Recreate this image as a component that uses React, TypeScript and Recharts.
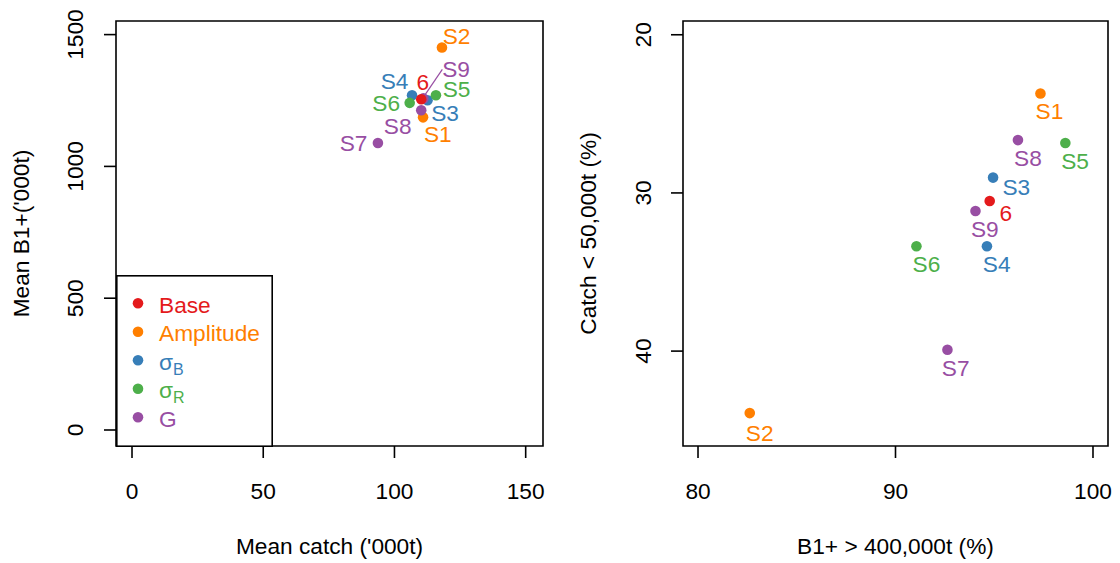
import React from 'react';
import { ScatterChart, Scatter, XAxis, YAxis, ReferenceArea, Legend } from 'recharts';

const FONT = '"Liberation Sans", Arial, Helvetica, sans-serif';
const FS = 22.7;

// scenarios, in the order of the source table
const scenarios = ['Base', 'S1', 'S2', 'S3', 'S4', 'S5', 'S6', 'S7', 'S8', 'S9'];
const pointLabels = ['6', 'S1', 'S2', 'S3', 'S4', 'S5', 'S6', 'S7', 'S8', 'S9'];
const scenarioGroup = ['Base', 'Amplitude', 'Amplitude', 'sigmaB', 'sigmaB', 'sigmaR', 'sigmaR', 'G', 'G', 'G'];

// left panel
const meanCatch = [110.2, 110.9, 118.1, 112.6, 106.7, 115.8, 105.8, 93.7, 110.2, 111.0];
const meanB1 = [1255, 1186, 1451, 1251, 1270, 1270, 1241, 1089, 1213, 1258];
// right panel
const pctB1Above = [94.77, 97.34, 82.62, 94.94, 94.63, 98.6, 91.06, 92.63, 96.2, 94.05];
const pctCatchBelow = [30.51, 23.71, 43.92, 29.03, 33.37, 26.84, 33.37, 39.91, 26.66, 31.14];

const legendGroups = ['Base', 'Amplitude', 'sigmaB', 'sigmaR', 'G'];
const drawOrder = ['Amplitude', 'sigmaB', 'sigmaR', 'G', 'Base'];

const leftTicksX = [0, 50, 100, 150];
const leftTicksY = [0, 500, 1000, 1500];
const rightTicksX = [80, 90, 100];
const rightTicksY = [20, 30, 40];

const groupColors: Record<string, string> = {
  Base: '#E41A1C',
  Amplitude: '#FF7F00',
  sigmaB: '#377EB8',
  sigmaR: '#4DAF4A',
  G: '#984EA3',
};

// label offsets (px) from each point
const leftLabelOffset: Record<string, number[]> = {
  Base: [1.5, -17.3], S1: [14.8, 16.3], S2: [14.6, -11.3], S3: [17.5, 12.5], S4: [-17.5, -14.2],
  S5: [20.6, -5.8], S6: [-23.5, 0], S7: [-24.4, 0], S8: [-23.5, 15.8], S9: [32.8, -29.7],
};
const rightLabelOffset: Record<string, number[]> = {
  Base: [16, 11.7], S1: [9, 17.3], S2: [10, 19.7], S3: [23.3, 9.3], S4: [9.7, 18.3],
  S5: [9.7, 18.3], S6: [10, 18.3], S7: [8.3, 18], S8: [10, 18.3], S9: [9.3, 17.7],
};

const rowsFor = (xs: number[], ys: number[], group: string) =>
  scenarios
    .map((s, i) => ({ name: s, label: pointLabels[i], group: scenarioGroup[i], x: xs[i], y: ys[i] }))
    .filter((d) => d.group === group);

const makeShape = (offsets: Record<string, number[]>, leader: boolean) => (props: any) => {
  const { cx, cy, payload } = props;
  const color = groupColors[payload.group];
  const [dx, dy] = offsets[payload.name];
  return (
    <g>
      <circle cx={cx} cy={cy} r={5.3} fill={color} />
      {leader && payload.name === 'S9' && (
        <line x1={cx + 2} y1={cy - 4} x2={cx + 19} y2={cy - 29} stroke={color} strokeWidth={1.2} />
      )}
      <text x={cx + dx} y={cy + dy} dy="0.35em" textAnchor="middle" fill={color} fontSize={FS} fontFamily={FONT}>
        {payload.label}
      </text>
    </g>
  );
};

const XTick = (props: any) => (
  <text x={props.x} y={props.y} dy="0.35em" textAnchor="middle" fontSize={FS} fontFamily={FONT} fill="#000">
    {props.payload.value}
  </text>
);

// y tick labels sit at a fixed column (textX) left of the plot, rotated like R's las=0
const YTick = (props: any) => {
  const x = props.textX;
  return (
    <text
      x={x}
      y={props.y}
      dy="0.35em"
      textAnchor="middle"
      transform={`rotate(-90 ${x} ${props.y})`}
      fontSize={FS}
      fontFamily={FONT}
      fill="#000"
    >
      {props.payload.value}
    </text>
  );
};

const xTitle = (text: string) => (props: any) => {
  const vb = props.viewBox;
  return (
    <text x={vb.x + vb.width / 2} y={vb.y + 108} textAnchor="middle" fontSize={FS} fontFamily={FONT} fill="#000">
      {text}
    </text>
  );
};

const yTitle = (text: string) => (props: any) => {
  const vb = props.viewBox;
  const x = vb.x + vb.width - 95;
  const y = vb.y + vb.height / 2;
  return (
    <text
      x={x}
      y={y}
      dy="0.35em"
      textAnchor="middle"
      transform={`rotate(-90 ${x} ${y})`}
      fontSize={FS}
      fontFamily={FONT}
      fill="#000"
    >
      {text}
    </text>
  );
};

const legendText: Record<string, React.ReactNode> = {
  Base: 'Base',
  Amplitude: 'Amplitude',
  sigmaB: (
    <>
      σ<tspan fontSize={16} dy={5}>B</tspan>
    </>
  ),
  sigmaR: (
    <>
      σ<tspan fontSize={16} dy={5}>R</tspan>
    </>
  ),
  G: 'G',
};

const LegendBox = () => (
  <svg width={157} height={172} style={{ display: 'block' }}>
    <rect x={0.8} y={0.8} width={155.4} height={170.4} fill="#fff" stroke="#000" strokeWidth={1.6} />
    {legendGroups.map((g, i) => (
      <g key={g}>
        <circle cx={22} cy={28.3 + i * 28.5} r={5.3} fill={groupColors[g]} />
        <text x={43} y={29.8 + i * 28.5} dy="0.35em" fontSize={FS} fontFamily={FONT} fill={groupColors[g]}>
          {legendText[g]}
        </text>
      </g>
    ))}
  </svg>
);

export default function App() {
  const lx: [number, number] = [-6.1, 156.6];
  const ly: [number, number] = [-60.7, 1551.6];
  const rx: [number, number] = [79.24, 100.76];
  const ry: [number, number] = [19.13, 46.0];

  return (
    <div style={{ position: 'absolute', left: 0, top: 0, width: 1120, height: 563, background: '#fff', fontFamily: FONT }}>
      <div style={{ position: 'absolute', left: 0, top: 0 }}>
        <ScatterChart width={560} height={563} margin={{ top: 21, right: 17, bottom: 0, left: 0 }}>
          <XAxis
            type="number"
            dataKey="x"
            domain={lx}
            ticks={leftTicksX}
            allowDataOverflow
            height={117}
            axisLine={false}
            tickSize={12}
            tickMargin={33}
            tickLine={{ stroke: '#000', strokeWidth: 1.6 }}
            tick={<XTick />}
            label={xTitle("Mean catch ('000t)")}
          />
          <YAxis
            type="number"
            dataKey="y"
            domain={ly}
            ticks={leftTicksY}
            allowDataOverflow
            width={116}
            axisLine={false}
            tickSize={12}
            tickLine={{ stroke: '#000', strokeWidth: 1.6 }}
            tick={<YTick textX={75} />}
            label={yTitle("Mean B1+('000t)")}
          />
          <ReferenceArea x1={lx[0]} x2={lx[1]} y1={ly[0]} y2={ly[1]} fill="none" fillOpacity={0} stroke="#000" strokeWidth={1.6} />
          {drawOrder.map((g) => (
            <Scatter
              key={g}
              data={rowsFor(meanCatch, meanB1, g)}
              fill={groupColors[g]}
              shape={makeShape(leftLabelOffset, true)}
              isAnimationActive={false}
            />
          ))}
          <Legend
            layout="horizontal"
            verticalAlign="middle"
            align="center"
            content={<LegendBox />}
            wrapperStyle={{ left: 116, top: 275, width: 157, height: 172 }}
          />
        </ScatterChart>
      </div>
      <div style={{ position: 'absolute', left: 560, top: 0 }}>
        <ScatterChart width={560} height={563} margin={{ top: 21, right: 12, bottom: 0, left: 0 }}>
          <XAxis
            type="number"
            dataKey="x"
            domain={rx}
            ticks={rightTicksX}
            allowDataOverflow
            height={117}
            axisLine={false}
            tickSize={12}
            tickMargin={33}
            tickLine={{ stroke: '#000', strokeWidth: 1.6 }}
            tick={<XTick />}
            label={xTitle('B1+ > 400,000t (%)')}
          />
          <YAxis
            type="number"
            dataKey="y"
            domain={ry}
            reversed
            ticks={rightTicksY}
            allowDataOverflow
            width={123}
            axisLine={false}
            tickSize={12}
            tickLine={{ stroke: '#000', strokeWidth: 1.6 }}
            tick={<YTick textX={83} />}
            label={yTitle('Catch < 50,000t (%)')}
          />
          <ReferenceArea x1={rx[0]} x2={rx[1]} y1={ry[0]} y2={ry[1]} fill="none" fillOpacity={0} stroke="#000" strokeWidth={1.6} />
          {drawOrder.map((g) => (
            <Scatter
              key={g}
              data={rowsFor(pctB1Above, pctCatchBelow, g)}
              fill={groupColors[g]}
              shape={makeShape(rightLabelOffset, false)}
              isAnimationActive={false}
            />
          ))}
        </ScatterChart>
      </div>
    </div>
  );
}
